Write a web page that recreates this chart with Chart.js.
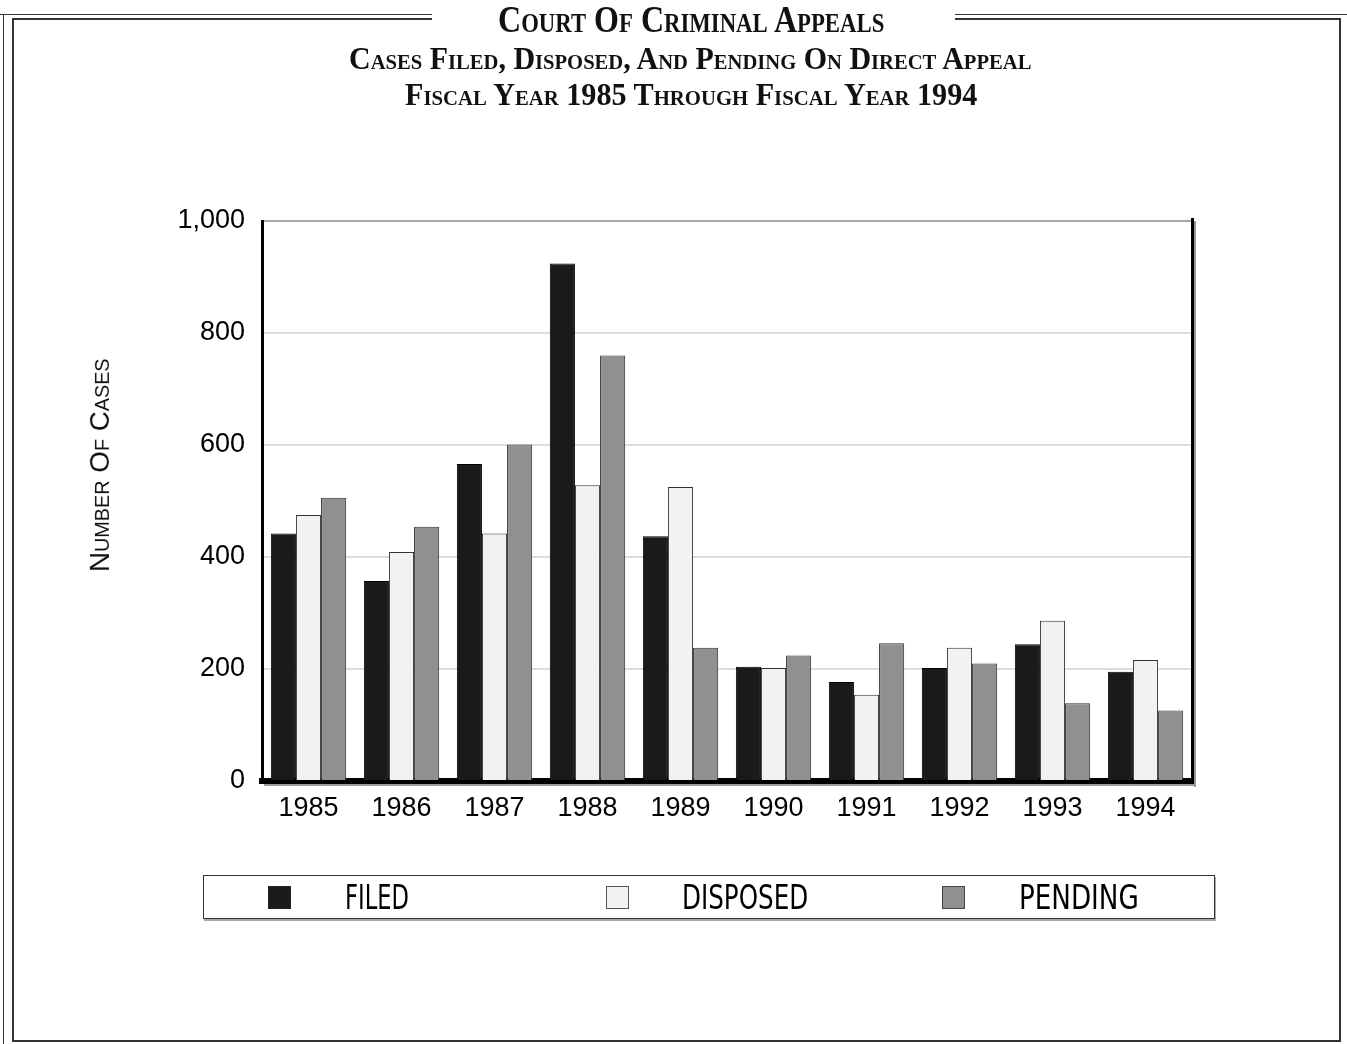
<!DOCTYPE html>
<html><head><meta charset="utf-8">
<script src="https://cdn.jsdelivr.net/npm/chart.js@4/dist/chart.umd.min.js"></script>
<style>
html,body{margin:0;padding:0;background:#fff}
body{width:1347px;height:1044px;position:relative;overflow:hidden;font-family:"Liberation Sans",Arial,sans-serif}
#c{position:absolute;left:0;top:0}
.ln{position:absolute;background:#333}
.fit{position:absolute;left:0;top:0;white-space:nowrap;line-height:1;transform-origin:0 0}
.ttl{font-family:"Liberation Serif","Times New Roman",serif;font-weight:bold;font-variant:small-caps;color:#111}
.leg{font-family:"Liberation Sans Narrow","DejaVu Sans Condensed","Liberation Sans",sans-serif;color:#000;font-size:33px}
#legbox{position:absolute;left:203px;top:875px;width:1010px;height:42px;border:1px solid #333;box-shadow:1px 2px 0 #aaa;background:#fff}
.sw{position:absolute;top:886px;width:21px;height:21px;border:1px solid #222}
#ytitle{font-family:"Liberation Sans",Arial,sans-serif;font-variant:small-caps;color:#111;font-size:28px}
</style>
</head><body>
<div class="ln" style="left:0;top:14px;width:432px;height:1px"></div>
<div class="ln" style="left:12px;top:18px;width:420px;height:2px"></div>
<div class="ln" style="left:955px;top:14px;width:392px;height:1px"></div>
<div class="ln" style="left:955px;top:18px;width:386px;height:2px"></div>
<div class="ln" style="left:3px;top:14px;width:1px;height:1030px"></div>
<div class="ln" style="left:12px;top:18px;width:2px;height:1024px"></div>
<div class="ln" style="left:1339px;top:18px;width:2px;height:1024px"></div>
<div class="ln" style="left:12px;top:1040px;width:1329px;height:2px"></div>

<canvas id="c" width="1347" height="1044"></canvas>

<div class="fit ttl" data-left="498" data-w="386" data-base="33" style="font-size:38px">Court Of Criminal Appeals</div>
<div class="fit ttl" data-left="349" data-w="682" data-base="70" style="font-size:32px">Cases Filed, Disposed, And Pending On Direct Appeal</div>
<div class="fit ttl" data-left="405" data-w="572" data-base="106" style="font-size:32px">Fiscal Year 1985 Through Fiscal Year 1994</div>

<div id="ytitle" class="fit">Number Of Cases</div>

<div id="legbox"></div>
<div class="sw" style="left:268px;background:#1a1a1a"></div>
<div class="sw" style="left:606px;background:#f2f2f2;border-color:#555"></div>
<div class="sw" style="left:942px;background:#909090;border-color:#444"></div>
<div class="fit leg" data-left="345" data-w="64" data-base="909">FILED</div>
<div class="fit leg" data-left="682" data-w="126" data-base="909">DISPOSED</div>
<div class="fit leg" data-left="1019" data-w="120" data-base="909">PENDING</div>

<script>
const years = ['1985','1986','1987','1988','1989','1990','1991','1992','1993','1994'];
const filed = [442, 357, 566, 924, 437, 204, 177, 202, 244, 195];
const disposed = [475, 409, 442, 528, 525, 202, 154, 238, 286, 216];
const pending = [506, 454, 601, 760, 238, 224, 246, 210, 139, 126];
const yTicks = [0, 200, 400, 600, 800, 1000];
const seriesNames = ['FILED', 'DISPOSED', 'PENDING'];

// fit HTML texts
document.querySelectorAll('.fit[data-w]').forEach(el => {
  const fs = parseFloat(getComputedStyle(el).fontSize);
  const w = el.offsetWidth;
  const s = parseFloat(el.dataset.w) / w;
  const top = parseFloat(el.dataset.base) - 0.86 * fs;
  el.style.transform = `translate(${el.dataset.left}px,${top}px) scale(${s},1)`;
});
(function(){
  const el = document.getElementById('ytitle');
  const fs = parseFloat(getComputedStyle(el).fontSize);
  const w = el.offsetWidth;
  const s = 214 / w;
  el.style.transform = `translate(110px,465px) rotate(-90deg) scale(${s},1) translate(${-w/2}px,${-0.86*fs}px)`;
})();

const frame = {
  id: 'frame',
  afterDraw(chart) {
    const {ctx, chartArea: a} = chart;
    ctx.save();
    ctx.fillStyle = '#999';
    ctx.fillRect(a.right + 2, a.top, 2, a.bottom - a.top + 6);
    ctx.fillRect(a.left + 2, a.bottom + 3, a.right - a.left + 2, 2);
    ctx.fillStyle = '#000';
    ctx.fillRect(a.right - 1, a.top - 3, 3, a.bottom - a.top + 6);
    ctx.restore();
  }
};

new Chart(document.getElementById('c'), {
  type: 'bar',
  data: {
    labels: years,
    datasets: [
      {label: seriesNames[0], data: filed, backgroundColor: '#1a1a1a', borderColor: '#000'},
      {label: seriesNames[1], data: disposed, backgroundColor: '#f2f2f2', borderColor: '#333'},
      {label: seriesNames[2], data: pending, backgroundColor: '#909090', borderColor: '#333'}
    ].map(d => Object.assign(d, {borderWidth: 1, categoryPercentage: 0.81, barPercentage: 1.0}))
  },
  options: {
    responsive: false,
    animation: false,
    devicePixelRatio: 1,
    layout: {padding: {left: 150, right: 155, top: 221, bottom: 213}},
    plugins: {legend: {display: false}, title: {display: false}, tooltip: {enabled: false}},
    scales: {
      x: {
        z: 1,
        grid: {display: false, drawTicks: false},
        border: {display: true, color: '#000', width: 6},
        ticks: {color: '#000', padding: 11, font: {family: '"Liberation Sans", Arial, sans-serif', size: 27}},
        afterFit(s) { s.height = 50; }
      },
      y: {
        min: 0, max: 1000,
        afterBuildTicks(s) { s.ticks = yTicks.map(v => ({value: v})); },
        grid: {
          drawTicks: false,
          lineWidth: 2,
          color: c => c.tick && c.tick.value === 1000 ? '#a8a8a8' : (c.tick && c.tick.value === 0 ? 'rgba(0,0,0,0)' : '#dcdcdc')
        },
        border: {display: true, color: '#000', width: 3},
        ticks: {
          color: '#000', padding: 17,
          font: {family: '"Liberation Sans", Arial, sans-serif', size: 27},
          callback: v => v.toLocaleString('en-US')
        },
        afterFit(s) { s.width = 112; }
      }
    }
  },
  plugins: [frame]
});
</script>
</body></html>
